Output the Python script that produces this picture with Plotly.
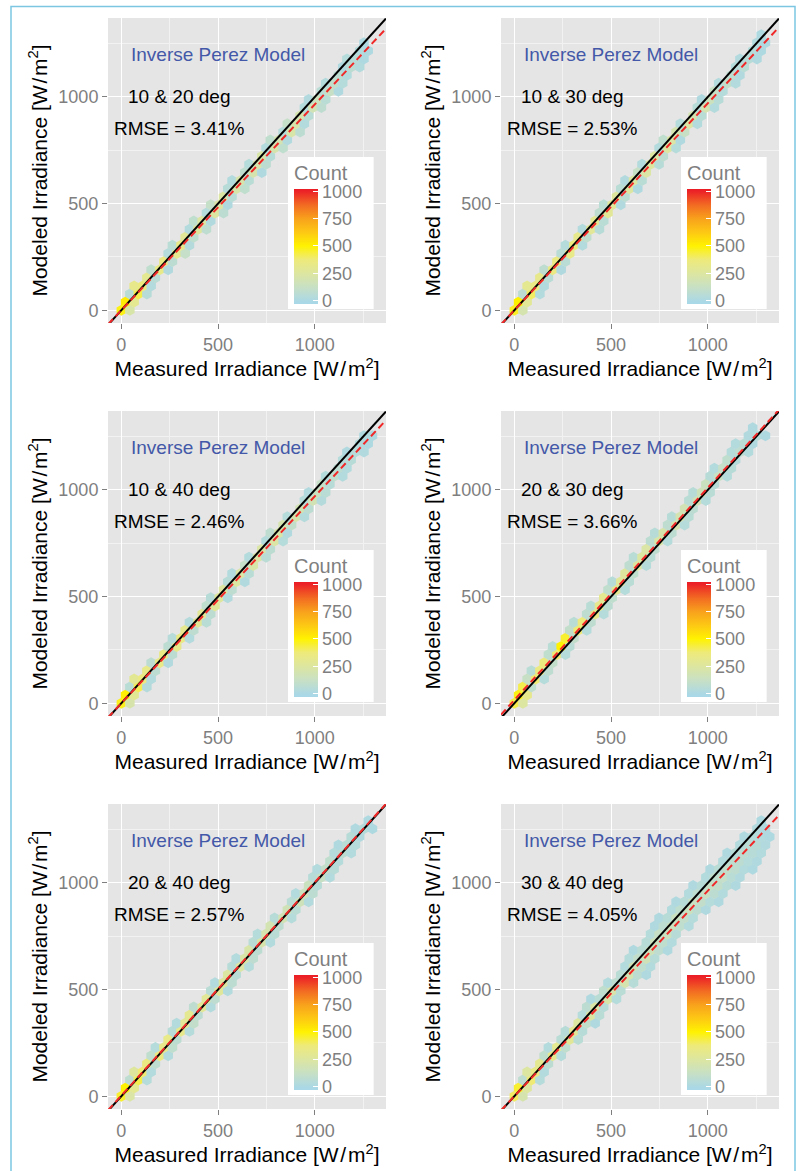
import plotly.graph_objects as go

FONT = "Liberation Sans, Arial, Helvetica, sans-serif"
W, H = 803, 1171

# ---------------- data ----------------
panel_names = ["10 & 20 deg", "10 & 30 deg", "10 & 40 deg",
               "20 & 30 deg", "20 & 40 deg", "30 & 40 deg"]
rmse_text = ["RMSE = 3.41%", "RMSE = 2.53%", "RMSE = 2.46%",
             "RMSE = 3.66%", "RMSE = 2.57%", "RMSE = 4.05%"]
model_text = "Inverse Perez Model"
x_title = "Measured Irradiance [W\u200a/\u200am<sup>2</sup>]"
y_title = "Modeled Irradiance [W\u200a/\u200am<sup>2</sup>]"
legend_title = "Count"

x_range = [-69, 1368]
y_range = [-60, 1370]
count_breaks = [0, 250, 500, 750, 1000]
count_range = [-30, 1020]

# fitted (red dashed) regression lines
fit_slope = [0.965, 0.97, 0.97, 0.995, 1.0, 0.963]
fit_intercept = [0, 0, 0, 15, 3, 0]

# hexbin lattice spacing (data units)
hex_w = 44.0
hex_h = 38.0

# each panel: one entry per hex row (bottom to top): (first column, counts)
p1_hex = [
    (0, [480, 220]), (0, [520, 300]), (1, [60, 420, 50]), (1, [320, 360, 30]),
    (3, [300, 60]), (3, [90, 330, 25]), (5, [340, 70]), (5, [40, 300, 110]),
    (6, [60, 320, 35]), (7, [280, 90]), (8, [30, 260, 80]), (8, [90, 240, 25]),
    (10, [40, 250, 70]), (10, [110, 230, 20]), (12, [240, 60]), (12, [50, 220, 90]),
    (13, [30, 210, 60]), (14, [80, 200, 20]), (15, [40, 210, 70]), (16, [220, 50]),
    (17, [30, 200, 90]), (17, [90, 190, 25]), (19, [40, 220, 70]), (19, [110, 210, 30]),
    (21, [200, 60]), (21, [40, 180, 80]), (22, [25, 150, 60]), (23, [60, 120, 20]),
    (24, [30, 100, 40]), (25, [80, 30]), (26, [20, 70, 30]), (26, [40, 50, 15]),
    (28, [30, 15]), (28, [15]),
]
p2_hex = [
    (0, [460, 200]), (0, [500, 280]), (1, [70, 400, 30]), (1, [300, 340, 25]),
    (3, [320, 60]), (3, [80, 340, 20]), (5, [350, 60]), (5, [60, 330]),
    (6, [40, 360, 30]), (7, [320, 90]), (8, [30, 280, 50]), (9, [290, 60]),
    (10, [80, 280]), (10, [60, 270, 25]), (12, [260, 70]), (12, [60, 250, 20]),
    (13, [25, 240, 60]), (14, [120, 230]), (15, [30, 250, 50]), (16, [240, 80]),
    (17, [30, 250, 40]), (17, [90, 230, 20]), (19, [200, 120]), (19, [40, 230, 30]),
    (21, [190, 60]), (21, [50, 190, 30]), (22, [20, 150, 50]), (23, [120, 40]),
    (24, [30, 100, 30]), (25, [80, 25]), (26, [40, 60]), (26, [25, 50, 20]),
    (28, [40, 15]), (28, [25, 15]), (29, [15]),
]
p3_hex = [
    (0, [470, 210]), (0, [510, 290]), (1, [60, 410, 35]), (1, [290, 350, 30]),
    (3, [330, 70]), (3, [70, 330, 25]), (5, [340, 70]), (5, [70, 320]),
    (6, [45, 340, 30]), (7, [310, 80]), (8, [35, 280, 60]), (9, [280, 70]),
    (10, [90, 270]), (10, [50, 260, 30]), (12, [250, 80]), (12, [50, 240, 25]),
    (13, [30, 230, 60]), (14, [110, 220]), (15, [30, 230, 60]), (16, [230, 70]),
    (17, [35, 230, 40]), (17, [80, 220, 25]), (19, [200, 100]), (19, [40, 210, 35]),
    (21, [180, 70]), (21, [40, 180, 35]), (22, [25, 140, 60]), (23, [110, 50]),
    (24, [35, 90, 30]), (25, [70, 30]), (26, [40, 50]), (26, [20, 45, 25]),
    (28, [35, 15]), (28, [20, 15]),
]
p4_hex = [
    (0, [420, 250]), (0, [480, 320]), (1, [420, 90]), (1, [120, 380, 40]),
    (2, [60, 350, 80]), (3, [360, 100]), (4, [90, 380, 40]), (4, [60, 500, 60]),
    (6, [450, 100]), (6, [100, 380, 40]), (7, [60, 360, 80]), (8, [80, 330, 40]),
    (9, [60, 310, 70]), (10, [300, 90]), (11, [90, 290, 40]), (11, [50, 270, 60]),
    (13, [260, 90]), (13, [80, 250, 40]), (14, [60, 240, 60]), (15, [230, 80]),
    (16, [70, 220, 40]), (16, [50, 210, 70]), (18, [80, 200, 40]), (18, [50, 190, 60]),
    (20, [180, 70]), (20, [60, 170, 40]), (21, [50, 160, 60]), (22, [140, 50]),
    (23, [50, 130, 40]), (23, [30, 110, 50]), (25, [90, 40]), (25, [40, 80, 30]),
    (26, [30, 60, 20]), (27, [25, 40, 15]), (28, [20]),
]
p5_hex = [
    (0, [450, 230]), (0, [500, 300]), (1, [80, 420, 40]), (1, [260, 380, 30]),
    (3, [350, 80]), (3, [90, 350, 30]), (4, [40, 320, 90]), (5, [330, 70]),
    (6, [50, 320, 40]), (6, [30, 280, 100]), (8, [300, 70]), (8, [80, 280, 30]),
    (10, [280, 80]), (10, [60, 270, 30]), (11, [30, 250, 70]), (12, [240, 60]),
    (13, [50, 230, 40]), (13, [30, 220, 80]), (15, [220, 70]), (15, [60, 210, 30]),
    (16, [40, 200, 60]), (17, [190, 80]), (18, [50, 180, 40]), (19, [170, 60]),
    (20, [60, 160, 30]), (20, [30, 150, 70]), (22, [140, 50]), (22, [50, 120, 30]),
    (23, [30, 100, 50]), (24, [90, 40]), (25, [40, 70, 30]), (25, [20, 60, 40]),
    (27, [50, 25]), (27, [20, 40, 15]), (29, [15]),
]
p6_hex = [
    (0, [400, 200]), (0, [450, 250]), (1, [80, 380, 40]), (1, [250, 330, 30]),
    (3, [300, 70]), (3, [90, 300, 40]), (4, [30, 300, 90]), (5, [60, 280, 60]),
    (6, [50, 280, 50]), (7, [250, 100, 20]), (8, [40, 240, 60]), (8, [70, 230, 50]),
    (9, [20, 60, 220, 40]), (10, [90, 210, 60]), (11, [30, 80, 200, 50]), (12, [60, 190, 70, 20]),
    (13, [30, 170, 90, 30]), (13, [40, 100, 170, 50]), (14, [20, 60, 160, 80, 20]), (15, [50, 150, 90, 30]),
    (16, [40, 120, 140, 50]), (16, [20, 70, 150, 90, 30]), (17, [20, 50, 140, 100, 40]), (18, [30, 90, 140, 70, 20]),
    (19, [20, 50, 130, 100, 40, 20]), (20, [30, 80, 130, 70, 30]), (21, [20, 50, 120, 100, 50, 20]), (22, [30, 90, 110, 60, 25]),
    (23, [20, 60, 100, 80, 30, 15]), (24, [30, 80, 70, 40, 20]), (25, [20, 50, 70, 50, 30]), (26, [30, 60, 50, 25]),
    (27, [20, 40, 30, 15]), (28, [25, 20]), (29, [15]),
]
panels_hex = [p1_hex, p2_hex, p3_hex, p4_hex, p5_hex, p6_hex]

# ---------------- layout geometry (pixels) ----------------
col_left = [108, 501]
row_top = [18, 411, 804]
pw, ph = 278, 305

GREY = "#7f7f7f"
colorscale = [
    [0.000, "#a8d8e8"], [0.029, "#acd8e4"], [0.148, "#c8e0c4"],
    [0.267, "#dde6a0"], [0.386, "#eeea7a"], [0.505, "#fff200"],
    [0.624, "#fdc814"], [0.743, "#f8a11c"], [0.862, "#f26a22"],
    [0.981, "#ec2227"], [1.000, "#eb1c24"],
]

fig = go.Figure()
layout = {}
annotations = []

for k in range(6):
    r, c = divmod(k, 2)
    sfx = "" if k == 0 else str(k + 1)
    xs, ys, cs = [], [], []
    for row, (c0, counts) in enumerate(panels_hex[k]):
        for i, n in enumerate(counts):
            xs.append((c0 + i + 0.5 * (row % 2)) * hex_w)
            ys.append(row * hex_h)
            cs.append(n)
    fig.add_trace(go.Scatter(
        x=xs, y=ys, mode="markers", xaxis="x" + sfx, yaxis="y" + sfx,
        marker=dict(symbol="hexagon", size=11, color=cs,
                    coloraxis="coloraxis" + sfx, line=dict(width=0)),
        showlegend=False, hoverinfo="skip"))
    fig.add_trace(go.Scatter(
        x=x_range, y=x_range, mode="lines", xaxis="x" + sfx, yaxis="y" + sfx,
        line=dict(color="black", width=2), showlegend=False, hoverinfo="skip"))
    fig.add_trace(go.Scatter(
        x=x_range, y=[fit_slope[k] * v + fit_intercept[k] for v in x_range],
        mode="lines", xaxis="x" + sfx, yaxis="y" + sfx,
        line=dict(color="#f02828", width=2, dash="7px,4px"),
        showlegend=False, hoverinfo="skip"))

    x0, y0 = col_left[c], row_top[r]
    common = dict(
        ticks="outside", ticklen=5, tickwidth=1, tickcolor=GREY,
        tickfont=dict(family=FONT, size=18, color=GREY),
        tickmode="linear", tick0=0, dtick=500,
        showgrid=True, gridcolor="white", gridwidth=1.4,
        minor=dict(tickmode="linear", tick0=0, dtick=250, showgrid=True,
                   gridcolor="#f2f2f2", gridwidth=0.7, ticks=""),
        zeroline=False, showline=False, fixedrange=True,
    )
    layout["xaxis" + sfx] = dict(
        common, domain=[x0 / W, (x0 + pw) / W], range=x_range, anchor="y" + sfx,
        title=dict(text=x_title, font=dict(family=FONT, size=21, color="black"), standoff=2))
    layout["yaxis" + sfx] = dict(
        common, domain=[1 - (y0 + ph) / H, 1 - y0 / H], range=y_range, anchor="x" + sfx,
        title=dict(text=y_title, font=dict(family=FONT, size=21, color="black"), standoff=5))
    layout["coloraxis" + sfx] = dict(
        cmin=count_range[0], cmax=count_range[1], colorscale=colorscale,
        colorbar=dict(
            x=(x0 + 180) / W, xanchor="left", y=1 - (y0 + 139) / H, yanchor="top",
            len=152, lenmode="pixels", thickness=24, thicknessmode="pixels",
            xpad=6, ypad=5, bgcolor="white", outlinewidth=0, borderwidth=0,
            tickmode="array", tickvals=count_breaks, ticks="inside", ticklen=5,
            tickcolor="white", tickwidth=1,
            tickfont=dict(family=FONT, size=18, color=GREY),
            title=dict(text=legend_title, side="top",
                       font=dict(family=FONT, size=20, color=GREY))))
    annotations += [
        dict(x=500, y=1200, xref="x" + sfx, yref="y" + sfx, text=model_text,
             showarrow=False, font=dict(family=FONT, size=19, color="#4358a8")),
        dict(x=300, y=1000, xref="x" + sfx, yref="y" + sfx, text=panel_names[k],
             showarrow=False, font=dict(family=FONT, size=19, color="black")),
        dict(x=300, y=850, xref="x" + sfx, yref="y" + sfx, text=rmse_text[k],
             showarrow=False, font=dict(family=FONT, size=19, color="black")),
    ]

fig.update_layout(
    width=W, height=H, margin=dict(l=0, r=0, t=0, b=0),
    paper_bgcolor="white", plot_bgcolor="#e5e5e5",
    font=dict(family=FONT), showlegend=False,
    annotations=annotations,
    shapes=[dict(type="rect", xref="paper", yref="paper",
                 x0=11 / W, x1=795 / W, y0=-0.01, y1=1 - 6.5 / H,
                 line=dict(color="#7cc6e2", width=1.5), fillcolor="rgba(0,0,0,0)",
                 layer="below")],
    **layout)

fig.write_html("out.html")
